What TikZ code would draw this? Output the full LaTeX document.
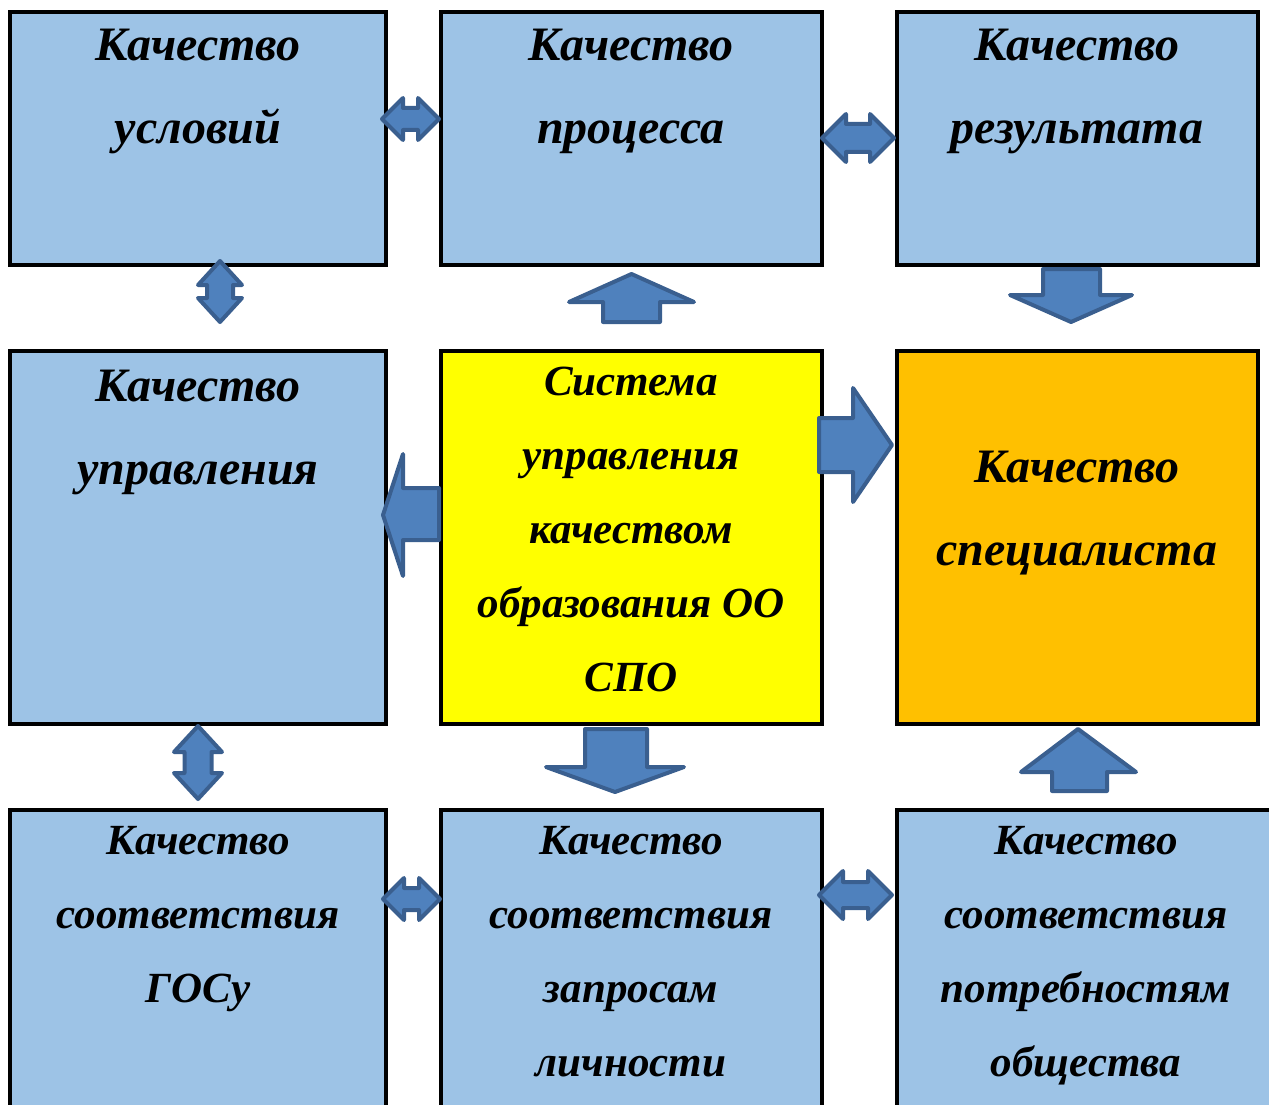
\documentclass[tikz,border=0pt]{standalone}
\usepackage{fontspec}
\setmainfont{Liberation Serif}
\definecolor{boxblue}{HTML}{9DC3E6}
\definecolor{boxyellow}{HTML}{FFFF00}
\definecolor{boxorange}{HTML}{FFC000}
\definecolor{arrowfill}{HTML}{4F81BD}
\definecolor{arrowline}{HTML}{3A5F8F}
\begin{document}
\begin{tikzpicture}[x=1pt,y=-1pt,
  box/.style={draw=black,line width=3.5pt,fill=boxblue,anchor=north west,inner sep=0pt,outer sep=0pt},
  big/.style={font=\fontsize{48}{56}\selectfont\bfseries\itshape,anchor=base,inner sep=0pt},
  small/.style={font=\fontsize{43}{50}\selectfont\bfseries\itshape,anchor=base,inner sep=0pt},
  barrow/.style={draw=arrowline,fill=arrowfill,line width=4pt,line join=round}]
\useasboundingbox (0,0) rectangle (1269,1105);
\clip (0,0) rectangle (1269,1105);
% boxes
\node[box,minimum width=376pt,minimum height=253pt] (A) at (10,12) {};
\node[box,minimum width=381pt,minimum height=253pt] (B) at (441,12) {};
\node[box,minimum width=361pt,minimum height=253pt] (C) at (897,12) {};
\node[box,minimum width=376pt,minimum height=373pt] (D) at (10,351) {};
\node[box,fill=boxyellow,minimum width=381pt,minimum height=373pt] (E) at (441,351) {};
\node[box,fill=boxorange,minimum width=361pt,minimum height=373pt] (F) at (897,351) {};
\node[box,minimum width=376pt,minimum height=330pt] (G) at (10,810) {};
\node[box,minimum width=381pt,minimum height=330pt] (H) at (441,810) {};
\node[box,minimum width=400pt,minimum height=330pt] (I) at (897,810) {};
% texts
\node[big] (a1) at (198,61) {Качество};
\node[big] (a2) at (198,144) {условий};
\node[big] (b1) at (631,61) {Качество};
\node[big] (b2) at (631,144) {процесса};
\node[big] (c1) at (1077,61) {Качество};
\node[big] (c2) at (1077,144) {результата};
\node[big] (d1) at (198,401) {Качество};
\node[big] (d2) at (198,484) {управления};
\node[big] (f1) at (1077,482) {Качество};
\node[big] (f2) at (1077,565) {специалиста};
\node[small] (e1) at (631,395) {Система};
\node[small] (e2) at (631,469) {управления};
\node[small] (e3) at (631,543) {качеством};
\node[small] (e4) at (631,617) {образования ОО};
\node[small] (e5) at (631,691) {СПО};
\node[small] (g1) at (198,854) {Качество};
\node[small] (g2) at (198,928) {соответствия};
\node[small] (g3) at (198,1002) {ГОСу};
\node[small] (h1) at (631,854) {Качество};
\node[small] (h2) at (631,928) {соответствия};
\node[small] (h3) at (631,1002) {запросам};
\node[small] (h4) at (631,1076) {личности};
\node[small] (i1) at (1086,854) {Качество};
\node[small] (i2) at (1086,928) {соответствия};
\node[small] (i3) at (1086,1002) {потребностям};
\node[small] (i4) at (1086,1076) {общества};
% block arrows
\draw[barrow] (382,119) -- (403,98) -- (403,108) -- (418,108) -- (418,98) -- (439,119) -- (418,140) -- (418,130) -- (403,130) -- (403,140) -- cycle;
\draw[barrow] (822,138) -- (846,114) -- (846,124) -- (870,124) -- (870,114) -- (894,138) -- (870,162) -- (870,152) -- (846,152) -- (846,162) -- cycle;
\draw[barrow] (220,261) -- (242,285) -- (233,285) -- (233,298) -- (242,298) -- (220,322) -- (198,298) -- (207,298) -- (207,285) -- (198,285) -- cycle;
\draw[barrow] (631.5,274) -- (694,302) -- (660,302) -- (660,322) -- (603,322) -- (603,302) -- (569,302) -- cycle;
\draw[barrow] (1043,269) -- (1100,269) -- (1100,295) -- (1132,295) -- (1071,322) -- (1010,295) -- (1043,295) -- cycle;
\draw[barrow] (383,515) -- (403,454) -- (403,488) -- (439,488) -- (439,540) -- (403,540) -- (403,576) -- cycle;
\draw[barrow] (819,418) -- (853,418) -- (853,388) -- (892,445) -- (853,502) -- (853,472) -- (819,472) -- cycle;
\draw[barrow] (585,729) -- (647,729) -- (647,767) -- (684,767) -- (615,792) -- (546,767) -- (585,767) -- cycle;
\draw[barrow] (198,726) -- (222,752) -- (211.5,752) -- (211.5,773) -- (222,773) -- (198,799) -- (174,773) -- (184.5,773) -- (184.5,752) -- (174,752) -- cycle;
\draw[barrow] (1078,729) -- (1136,772) -- (1107,772) -- (1107,791) -- (1052,791) -- (1052,772) -- (1021,772) -- cycle;
\draw[barrow] (383,899) -- (404,878) -- (404,888) -- (419,888) -- (419,878) -- (440,899) -- (419,920) -- (419,910) -- (404,910) -- (404,920) -- cycle;
\draw[barrow] (819,895) -- (843,871) -- (843,882) -- (868,882) -- (868,871) -- (892,895) -- (868,919) -- (868,908) -- (843,908) -- (843,919) -- cycle;
\end{tikzpicture}
\end{document}
